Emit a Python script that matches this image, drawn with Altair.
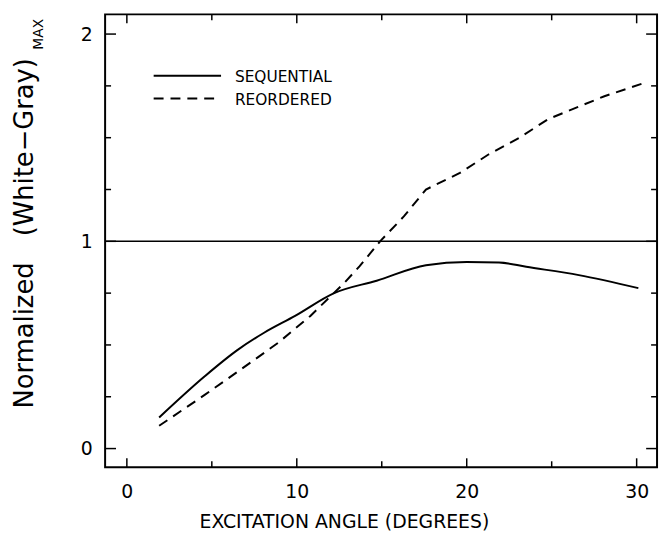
import altair as alt
import pandas as pd

# ---- data ----
seq_x = [1.9, 4.6, 6.5, 8.1, 9.9, 12.2, 14.7, 17.6, 20.0, 21.9, 23.5, 26.6, 30.1]
seq_y = [0.15, 0.35, 0.475, 0.56, 0.64, 0.75, 0.81, 0.885, 0.90, 0.898, 0.877, 0.837, 0.774]

reo_x = [1.9, 4.6, 6.5, 8.9, 10.8, 12.8, 13.7, 14.9, 16.3, 17.6, 19.6, 21.3, 23.1, 24.8, 28.1, 30.3]
reo_y = [0.11, 0.26, 0.37, 0.51, 0.64, 0.80, 0.88, 1.00, 1.12, 1.25, 1.33, 1.42, 1.50, 1.59, 1.70, 1.76]

x_major = [0, 10, 20, 30]
x_minor = [5, 15, 25]
y_major = [0, 1, 2]
y_minor = [0.25, 0.5, 0.75, 1.25, 1.5, 1.75]
ref_line = [1]

W, H = 557, 457
FONT = "DejaVu Sans"

xs = alt.Scale(domain=[-1.28, 31.2], nice=False, zero=False)
ys = alt.Scale(domain=[-0.09, 2.095], nice=False, zero=False)

AX = alt.Axis(values=x_major, ticks=False, domain=False, grid=False,
              labelPadding=16, labelFontSize=19, labelFont=FONT,
              labelColor="black", format="d",
              title="EXCITATION ANGLE (DEGREES)", titleFont=FONT,
              titleFontSize=19, titleFontWeight="normal", titleColor="black",
              titleX=241, titleY=61, titleBaseline="alphabetic",
              titleAlign="center")
AY = alt.Axis(values=y_major, ticks=False, domain=False, grid=False,
              labelPadding=13, labelFontSize=19, labelFont=FONT,
              labelColor="black", format="d", title=None)

def X(f="x"):
    return alt.X(f"{f}:Q", scale=xs, axis=AX, title="EXCITATION ANGLE (DEGREES)")

def Y(f="y"):
    return alt.Y(f"{f}:Q", scale=ys, axis=AY, title=None)

seq = pd.DataFrame({"x": seq_x, "y": seq_y})
reo = pd.DataFrame({"x": reo_x, "y": reo_y})

seq_line = alt.Chart(seq).mark_line(color="black", strokeWidth=2, interpolate="monotone").encode(x=X(), y=Y())
reo_line = alt.Chart(reo).mark_line(color="black", strokeWidth=2, strokeDash=[10, 7]).encode(x=X(), y=Y())

ref = alt.Chart(pd.DataFrame({"y": ref_line})).mark_rule(color="black", strokeWidth=1.5).encode(y=Y())

def xticks(vals, length):
    df = pd.DataFrame({"x": vals})
    bot = alt.Chart(df).mark_rule(color="black", strokeWidth=1.5).encode(
        x=X(), y=alt.value(H), y2=alt.value(H - length))
    top = alt.Chart(df).mark_rule(color="black", strokeWidth=1.5).encode(
        x=X(), y=alt.value(0), y2=alt.value(length))
    return bot + top

def yticks(vals, length):
    df = pd.DataFrame({"y": vals})
    left = alt.Chart(df).mark_rule(color="black", strokeWidth=1.5).encode(
        y=Y(), x=alt.value(0), x2=alt.value(length))
    right = alt.Chart(df).mark_rule(color="black", strokeWidth=1.5).encode(
        y=Y(), x=alt.value(W), x2=alt.value(W - length))
    return left + right

dummy = pd.DataFrame({"d": [0]})

def label(text, x, y, size, angle=0, align="center"):
    return alt.Chart(dummy).mark_text(text=text, font=FONT, fontSize=size, color="black",
                                      angle=angle, align=align, baseline="middle").encode(
        x=alt.value(x), y=alt.value(y))

ytitle = (label("Normalized", -81, 324, 26, angle=270)
          + label("(White\u2212Gray)", -81, 134, 26, angle=270)
          + label("MAX", -67, 20, 14, angle=270))

leg_solid = alt.Chart(dummy).mark_rule(color="black", strokeWidth=2).encode(
    x=alt.value(49), x2=alt.value(117), y=alt.value(62))
leg_dash = alt.Chart(dummy).mark_rule(color="black", strokeWidth=2, strokeDash=[10, 7]).encode(
    x=alt.value(49), x2=alt.value(117), y=alt.value(85))
legend = (leg_solid + leg_dash
          + label("SEQUENTIAL", 131, 63, 15.5, align="left")
          + label("REORDERED", 131, 86, 15.5, align="left"))

chart = alt.layer(
    seq_line, reo_line, ref,
    xticks(x_major, 9), xticks(x_minor, 6),
    yticks(y_major, 11), yticks(y_minor, 6),
    ytitle, legend,
).properties(
    width=W, height=H,
    autosize=alt.AutoSizeParams(type="none"),
    padding={"left": 98, "top": 4, "right": 5, "bottom": 70},
).configure_view(stroke="black", strokeWidth=2)

chart.save("out.html", embed_options={"renderer": "svg", "actions": False})
